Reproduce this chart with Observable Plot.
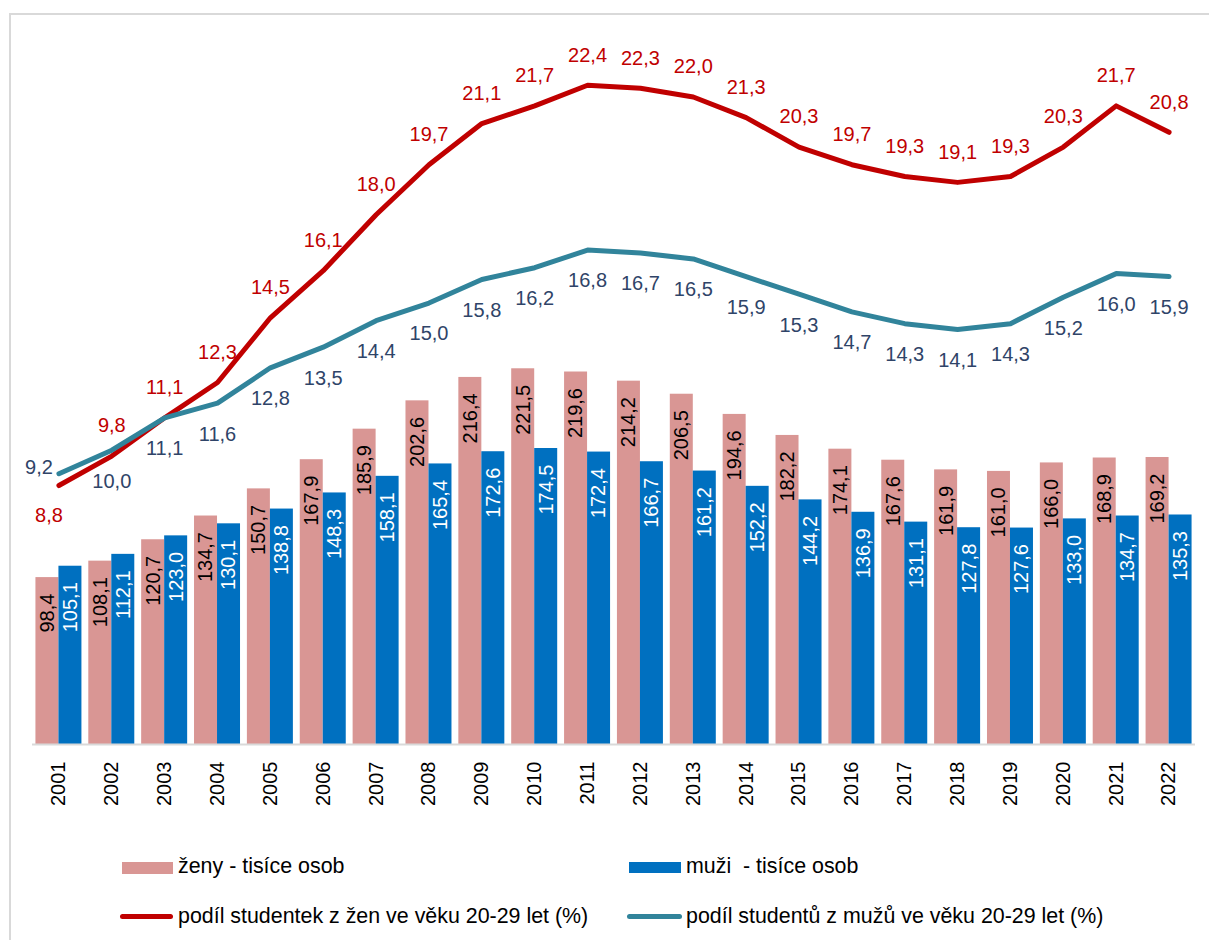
<!DOCTYPE html>
<html>
<head>
<meta charset="utf-8">
<script src="https://cdn.jsdelivr.net/npm/d3@7"></script>
<script src="https://cdn.jsdelivr.net/npm/@observablehq/plot@0.6"></script>
<style>
  html, body { margin: 0; padding: 0; background: #fff; overflow: hidden; width: 1209px; height: 940px; }
  body { position: relative; font-family: "Liberation Sans", Arial, sans-serif; }
  #frame { position: absolute; left: 9px; top: 13px; width: 1300px; height: 1000px; border-left: 2px solid #d9d9d9; border-top: 2px solid #d9d9d9; }
  #chart { position: absolute; left: 0; top: 0; }
  .leg { position: absolute; font-size: 21.4px; color: #000; line-height: 24px; white-space: pre; }
  .sw { position: absolute; }
</style>
</head>
<body>
<div id="frame"></div>
<div id="chart"></div>
<div class="sw" style="left:122px; top:862px; width:51px; height:12px; background:#D99694;"></div>
<div class="leg" style="left:178px; top:854px;">ženy - tisíce osob</div>
<div class="sw" style="left:629px; top:862px; width:52px; height:11px; background:#0070C0;"></div>
<div class="leg" style="left:686px; top:854px;">muži  - tisíce osob</div>
<div class="sw" style="left:120px; top:914px; width:53px; height:5px; border-radius:3px; background:#C00000;"></div>
<div class="leg" style="left:178px; top:904px;">podíl studentek z žen ve věku 20-29 let (%)</div>
<div class="sw" style="left:627px; top:914px; width:55px; height:5px; border-radius:3px; background:#31849B;"></div>
<div class="leg" style="left:686px; top:904px;">podíl studentů z mužů ve věku 20-29 let (%)</div>
<script>
const years = ["2001","2002","2003","2004","2005","2006","2007","2008","2009","2010","2011","2012","2013","2014","2015","2016","2017","2018","2019","2020","2021","2022"];
const women = [98.4,108.1,120.7,134.7,150.7,167.9,185.9,202.6,216.4,221.5,219.6,214.2,206.5,194.6,182.2,174.1,167.6,161.9,161.0,166.0,168.9,169.2];
const men = [105.1,112.1,123.0,130.1,138.8,148.3,158.1,165.4,172.6,174.5,172.4,166.7,161.2,152.2,144.2,136.9,131.1,127.8,127.6,133.0,134.7,135.3];
const womenPct = [8.8,9.8,11.1,12.3,14.5,16.1,18.0,19.7,21.1,21.7,22.4,22.3,22.0,21.3,20.3,19.7,19.3,19.1,19.3,20.3,21.7,20.8];
const menPct = [9.2,10.0,11.1,11.6,12.8,13.5,14.4,15.0,15.8,16.2,16.8,16.7,16.5,15.9,15.3,14.7,14.3,14.1,14.3,15.2,16.0,15.9];

// secondary (bar) axis expressed in units of the primary (percent) axis
const barFactor = 17.35;
const fmt = v => v.toFixed(1).replace(".", ",");

const rows = years.map((y, i) => ({year: y, women: women[i], men: men[i], wp: womenPct[i], mp: menPct[i]}));
const first = rows.filter((d, i) => i === 0);
const rest = rows.filter((d, i) => i > 0);

const W = 1209, H = 830;
const bandStep = (1195 - 32) / 22;
const bw = bandStep * 0.87;
const font = "'Liberation Sans', Arial, sans-serif";

const chart = Plot.plot({
  width: W,
  height: H,
  marginLeft: 32,
  marginRight: 14,
  marginTop: 8.25,
  marginBottom: 86,
  style: {fontFamily: font, background: "transparent", overflow: "visible"},
  x: {type: "band", domain: years, paddingInner: 0.13, paddingOuter: 0.065, round: false, label: null},
  y: {domain: [0, 25], axis: null},
  marks: [
    Plot.barY(rows, {x: "year", y: d => d.women / barFactor, fill: "#D99694", insetRight: bw / 2, insetLeft: 0}),
    Plot.barY(rows, {x: "year", y: d => d.men / barFactor, fill: "#0070C0", insetLeft: bw / 2, insetRight: 0}),
    Plot.ruleY([0], {stroke: "#d9d9d9", strokeWidth: 2}),
    Plot.text(rows, {x: "year", y: d => d.women / barFactor, text: d => fmt(d.women), rotate: -90, textAnchor: "end", dx: -bw / 4, dy: 16, fill: "#000", fontSize: 20}),
    Plot.text(rows, {x: "year", y: d => d.men / barFactor, text: d => fmt(d.men), rotate: -90, textAnchor: "end", dx: bw / 4, dy: 16, fill: "#fff", fontSize: 20}),
    Plot.line(rows, {x: "year", y: "wp", stroke: "#C00000", strokeWidth: 5, strokeLinecap: "round", strokeLinejoin: "round"}),
    Plot.line(rows, {x: "year", y: "mp", stroke: "#31849B", strokeWidth: 5, strokeLinecap: "round", strokeLinejoin: "round"}),
    Plot.text(rest, {x: "year", y: "wp", text: d => fmt(d.wp), dy: -30, fill: "#C00000", fontSize: 20}),
    Plot.text(first, {x: "year", y: "wp", text: d => fmt(d.wp), dy: 30, dx: -10, fill: "#C00000", fontSize: 20}),
    Plot.text(rest, {x: "year", y: "mp", text: d => fmt(d.mp), dy: 31, fill: "#2F4468", fontSize: 20}),
    Plot.text(first, {x: "year", y: "mp", text: d => fmt(d.mp), dx: -20, dy: -6, fill: "#2F4468", fontSize: 20}),
    Plot.axisX({tickRotate: -90, tickSize: 0, tickPadding: 17, fontSize: 20, color: "#000", label: null})
  ]
});
document.getElementById("chart").appendChild(chart);
</script>
</body>
</html>
